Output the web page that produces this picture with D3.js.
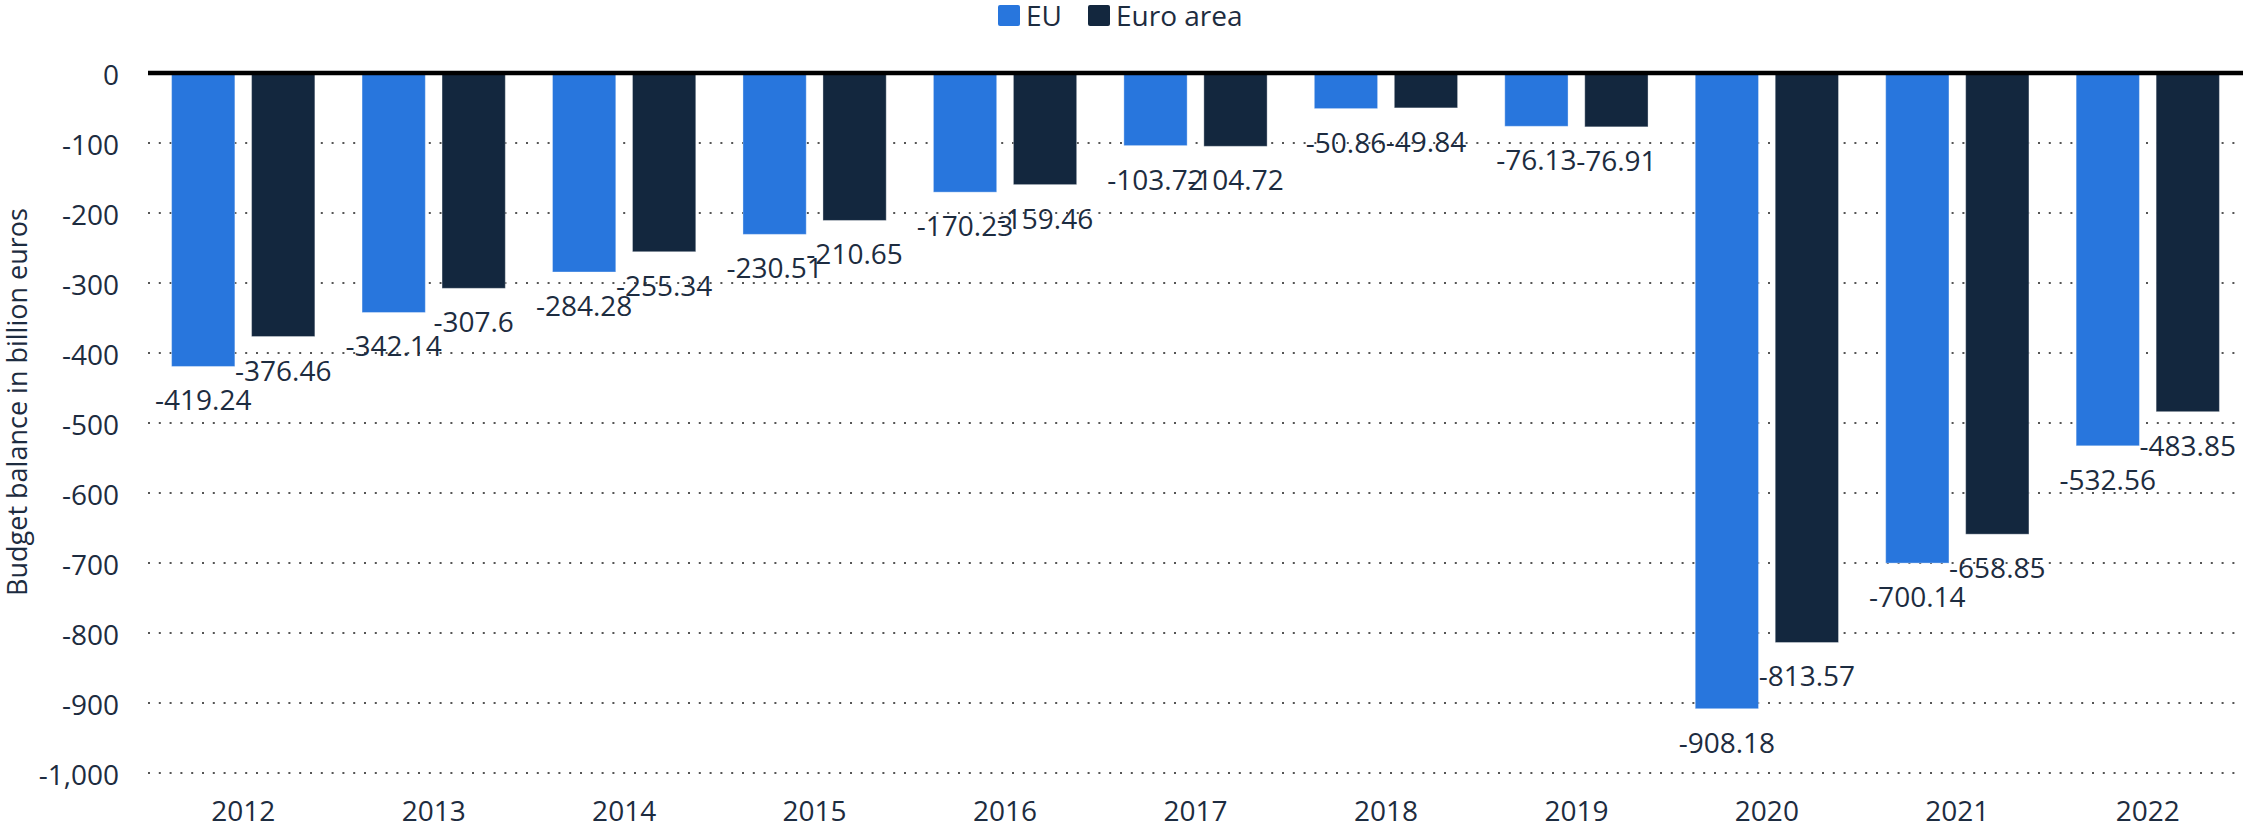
<!DOCTYPE html>
<html>
<head>
<meta charset="utf-8">
<script src="https://cdn.jsdelivr.net/npm/d3@7"></script>
<style>
  html, body { margin: 0; padding: 0; background: #fff; }
  svg { display: block; font-family: "Open Sans", sans-serif; }
</style>
</head>
<body>
<svg id="chart" width="2243" height="826"></svg>
<script>
// Government budget balance, billion euros
const years = ["2012", "2013", "2014", "2015", "2016", "2017", "2018", "2019", "2020", "2021", "2022"];
const seriesNames = ["EU", "Euro area"];
const euValues = [-419.24, -342.14, -284.28, -230.51, -170.23, -103.72, -50.86, -76.13, -908.18, -700.14, -532.56];
const euroAreaValues = [-376.46, -307.6, -255.34, -210.65, -159.46, -104.72, -49.84, -76.91, -813.57, -658.85, -483.85];
const yTicks = [0, -100, -200, -300, -400, -500, -600, -700, -800, -900, -1000];
const yTitle = "Budget balance in billion euros";

const colors = { "EU": "#2876dd", "Euro area": "#13273e" };
const textColor = "#1d2c40";

const W = 2243, H = 826;
const plot = { left: 148, right: 2243, top: 73, bottom: 773 };

const svg = d3.select("#chart");

const x = d3.scaleBand().domain(years).range([plot.left, plot.right]).padding(0);
const xInner = d3.scaleBand().domain(seriesNames).range([0, x.bandwidth()])
  .paddingInner(0.209).paddingOuter(0.295);
const y = d3.scaleLinear().domain([-1000, 0]).range([plot.bottom, plot.top]);

const locale = d3.formatLocale({ decimal: ".", thousands: ",", grouping: [3], currency: ["", ""], minus: "-" });
const fmtTick = locale.format(",");

// dotted gridlines
svg.append("g")
  .selectAll("line")
  .data(yTicks.filter(d => d !== 0))
  .join("line")
  .attr("x1", plot.left).attr("x2", plot.right)
  .attr("y1", d => y(d)).attr("y2", d => y(d))
  .attr("stroke", "#555")
  .attr("stroke-width", 2)
  .attr("stroke-dasharray", "2,8.8");

// y tick labels
const yAxis = d3.axisLeft(y).tickValues(yTicks).tickFormat(fmtTick).tickSize(0).tickPadding(0);
const gy = svg.append("g").attr("transform", `translate(119,0)`).call(yAxis);
gy.select(".domain").remove();
gy.selectAll("text")
  .attr("font-family", "Open Sans")
  .attr("font-size", 28)
  .attr("fill", textColor)
  .attr("dy", null)
  .attr("y", 11);

// bars
const rows = years.map((yr, i) => ({ year: yr, values: [
  { key: "EU", value: euValues[i] },
  { key: "Euro area", value: euroAreaValues[i] }
]}));

const groups = svg.append("g").selectAll("g")
  .data(rows).join("g")
  .attr("transform", d => `translate(${x(d.year)},0)`);

groups.selectAll("rect")
  .data(d => d.values).join("rect")
  .attr("x", d => xInner(d.key))
  .attr("width", xInner.bandwidth())
  .attr("y", d => y(0))
  .attr("height", d => y(d.value) - y(0))
  .attr("fill", d => colors[d.key])
  .attr("stroke", "rgba(255,255,255,0.35)")
  .attr("stroke-width", 1);

// zero line
svg.append("line")
  .attr("x1", plot.left).attr("x2", plot.right)
  .attr("y1", y(0)).attr("y2", y(0))
  .attr("stroke", "#000").attr("stroke-width", 4.5);

// value labels
groups.selectAll("text.val")
  .data(d => d.values).join("text")
  .attr("class", "val")
  .attr("x", d => xInner(d.key) + xInner.bandwidth() / 2)
  .attr("y", d => y(d.value) + 44)
  .attr("text-anchor", "middle")
  .attr("font-size", 28)
  .attr("fill", textColor)
  .text(d => String(d.value));

// x axis labels
const xAxis = d3.axisBottom(x).tickSize(0).tickPadding(0);
const gx = svg.append("g").call(xAxis);
gx.select(".domain").remove();
gx.selectAll("text")
  .attr("font-family", "Open Sans")
  .attr("font-size", 28)
  .attr("fill", textColor)
  .attr("dy", null)
  .attr("y", 821);

// y axis title
svg.append("text")
  .attr("transform", `translate(27,402) rotate(-90)`)
  .attr("text-anchor", "middle")
  .attr("font-size", 27)
  .attr("fill", textColor)
  .text(yTitle);

// legend
const legendX = [998, 1088];
const legend = svg.append("g").selectAll("g")
  .data(seriesNames).join("g")
  .attr("transform", (d, i) => `translate(${legendX[i]},5)`);
legend.append("rect")
  .attr("width", 22).attr("height", 21).attr("rx", 2)
  .attr("fill", d => colors[d]);
legend.append("text")
  .attr("x", 28).attr("y", 21)
  .attr("font-size", 28)
  .attr("fill", textColor)
  .text(d => d);
</script>
</body>
</html>
